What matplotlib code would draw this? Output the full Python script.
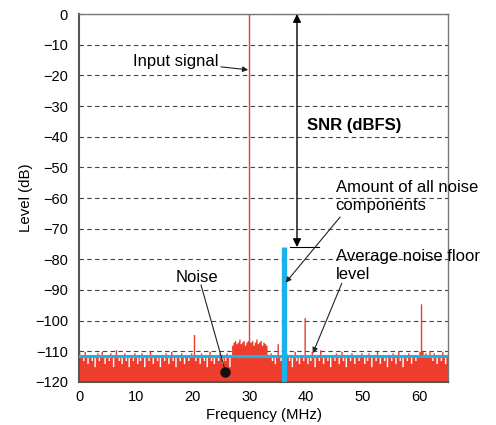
import numpy as np
import matplotlib.pyplot as plt

plt.rcParams['font.family'] = ['Liberation Sans', 'DejaVu Sans']

# spectrum, 0.25 MHz bins from 0 to 65 MHz (dB)
noise_db = [
    -109.5, -111, -112, -113, -110, -112, -114, -112, -111, -113, -112, -115, -112, -110.5, -113, -112, -110, -112, -114, -112,
    -111, -113, -110.5, -112, -115, -112, -109.5, -112, -113, -111, -114, -112, -110.5, -113, -112, -115, -111, -112, -113, -110.5,
    -112, -114, -111, -113, -110.5, -112, -115, -112, -111, -113, -110, -112, -114, -112, -111, -113, -112, -115, -111, -112,
    -113, -110.5, -112, -114, -112, -110, -113, -112, -115, -111, -112, -113, -110.5, -112, -114, -112, -111, -113, -112, -110.5,
    -112, -104.5, -113, -111, -112, -114, -110.5, -112, -113, -111, -115, -112, -110, -113, -112, -114, -111, -112, -113, -110.5,
    -112, -114, -111, -113, -110.5, -112, -115, -111, -108, -107, -106.5, -107.5, -107, -106, -107.5, -107, -106.5, -108, -107, -106.5,
    -107, -107, -106.5, -108, -107, -106, -107.5, -107, -106.5, -108, -107, -107.5, -108, -111, -112, -110.5, -113, -112, -114, -111,
    -107.5, -112, -113, -111, -112, -114, -110.5, -112, -113, -111, -115, -112, -110, -113, -112, -114, -111, -112, -113, -99,
    -112, -114, -111, -113, -110, -112, -115, -112, -111, -113, -109.5, -112, -114, -112, -111, -113, -112, -115, -111, -112,
    -113, -110.5, -112, -114, -112, -110, -113, -112, -115, -111, -112, -113, -110.5, -112, -114, -112, -111, -113, -112, -110.5,
    -112, -114, -111, -113, -110.5, -112, -115, -112, -111, -113, -110, -112, -114, -112, -111, -113, -112, -115, -111, -112,
    -113, -110.5, -112, -114, -112, -110, -113, -112, -115, -111, -112, -113, -110.5, -112, -114, -112, -111, -113, -112, -111,
    -110, -94.5, -110, -111, -110.5, -111, -112, -110, -111.5, -113, -110.5, -112, -114, -112, -111, -113, -110, -112, -114, -111,
    -112,
]
freq = np.arange(len(noise_db)) * 0.25

signal_freq = 30.0
signal_db = 0.0
noise_floor = -111.5
total_noise_freq = 36.1
total_noise_db = -76
snr_x = 38.4

fig = plt.figure(figsize=(4.96, 4.25), dpi=100)
ax = fig.add_axes([0.1593, 0.1012, 0.7439, 0.8658])

red = '#EE3D2C'
blue = '#1AB2E8'

ax.fill_between(freq, noise_db, -120, step='mid', color=red, lw=0, zorder=2)
ax.vlines(signal_freq, -120, signal_db, color=red, lw=1.0, zorder=2)
ax.axhline(noise_floor, color=blue, lw=2.2, zorder=3)
ax.vlines(total_noise_freq, -120, total_noise_db, color=blue, lw=3.8, zorder=4)

# SNR arrow
ax.annotate('', xy=(snr_x, 0), xytext=(snr_x, total_noise_db),
            arrowprops=dict(arrowstyle='<|-|>', color='k', lw=1.0, mutation_scale=12,
                            shrinkA=0, shrinkB=0), annotation_clip=False, zorder=5)
ax.plot([37.2, 42.3], [total_noise_db, total_noise_db], color='k', lw=0.8, zorder=5)
ax.text(40.1, -36.5, 'SNR (dBFS)', fontsize=12, fontweight='bold', va='center', ha='left')

arrow_kw = dict(arrowstyle='-|>', color='#222222', lw=0.8, mutation_scale=8, shrinkA=0, shrinkB=0)

ax.annotate('Input signal', xy=(29.8, -18.2), xytext=(24.5, -15.6), fontsize=12,
            ha='right', va='center', arrowprops=arrow_kw)
ax.text(45.2, -59.5, 'Amount of all noise\ncomponents', fontsize=12, ha='left', va='center',
        linespacing=1.25)
ax.annotate('', xy=(36.4, -87.6), xytext=(46.0, -66.2), arrowprops=arrow_kw, zorder=6)
ax.text(45.2, -81.9, 'Average noise floor\nlevel', fontsize=12, ha='left', va='center',
        linespacing=1.25)
ax.annotate('', xy=(41.2, -110.6), xytext=(46.3, -87.8), arrowprops=arrow_kw, zorder=6)
ax.text(20.84, -85.9, 'Noise', fontsize=12, ha='center', va='center')
ax.plot([21.5, 25.8], [-88.4, -116.6], color='#222222', lw=0.8, zorder=6)
ax.plot(25.8, -116.6, 'o', color='#111111', ms=6.5, zorder=6)

ax.set_xlim(0, 65)
ax.set_ylim(-120, 0)
ax.set_xticks(np.arange(0, 61, 10))
ax.set_yticks(np.arange(-120, 1, 10))
ax.yaxis.grid(True, ls=(0, (4, 3)), color='#444444', lw=0.8)
ax.set_axisbelow(True)
ax.tick_params(length=0, labelsize=10.5)
ax.tick_params(axis='y', pad=8)
ax.tick_params(axis='x', pad=6)
ax.set_xlabel('Frequency (MHz)', fontsize=10.8, labelpad=3)
ax.set_ylabel('Level (dB)', fontsize=10.8, labelpad=1)
for side in ['top', 'right']:
    ax.spines[side].set_color('#777777')
    ax.spines[side].set_linewidth(1.0)
for side in ['left', 'bottom']:
    ax.spines[side].set_color('#555555')
    ax.spines[side].set_linewidth(1.5)

fig.savefig('out.png', dpi=100)
